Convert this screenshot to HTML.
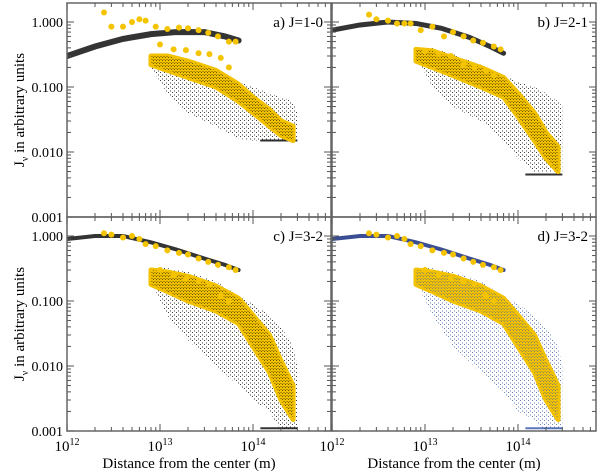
<!DOCTYPE html>
<html><head><meta charset="utf-8">
<style>
body{margin:0;background:#fff;}
svg{display:block;font-family:"Liberation Serif",serif;}
</style></head>
<body>
<svg id="chart" width="600" height="475" viewBox="0 0 600 475"></svg>
<script>
// ---- data (x in metres, y = J_nu in arbitrary units) ----
const panelLabels = ["a) J=1-0","b) J=2-1","c) J=3-2","d) J=3-2"];
const xTickLabels = ["12","13","14"];
const yTickLabels = ["1.000","0.100","0.010","0.001"];
// upper (inner) black curve per panel
const upX = [[1e12,2e12,4e12,8e12,1.5e13,3e13,5e13,7e13],[1e12,2e12,4e12,8e12,1.5e13,3e13,5e13,7e13],[1e12,2e12,4e12,8e12,1.5e13,3e13,5e13,7e13],[1e12,2e12,4e12,8e12,1.5e13,3e13,5e13,7e13]];
const upY = [[0.30,0.42,0.55,0.65,0.70,0.70,0.60,0.52],[0.75,0.90,1.00,0.95,0.80,0.58,0.42,0.33],[0.90,1.00,1.00,0.80,0.62,0.45,0.36,0.30],[0.90,1.00,1.00,0.80,0.62,0.45,0.36,0.30]];
const upW = [6,5,4,4];
// floor line of the black cloud
const floorY = [0.015,0.0045,0.0011,0.0011];
// black scatter cloud envelope (outer shell)
const cloudX = [8e12,1.2e13,2e13,4e13,7e13,1e14,1.5e14,2e14,2.7e14,3e14];
const cloudHi = [[0.30,0.30,0.25,0.18,0.12,0.10,0.08,0.07,0.06,0.04],[0.40,0.40,0.32,0.22,0.15,0.12,0.10,0.08,0.06,0.05],[0.33,0.32,0.28,0.20,0.12,0.09,0.06,0.04,0.02,0.01],[0.33,0.32,0.28,0.20,0.12,0.09,0.06,0.04,0.02,0.01]];
const cloudLo = [[0.20,0.08,0.04,0.025,0.016,0.015,0.015,0.015,0.015,0.015],[0.30,0.10,0.05,0.03,0.015,0.008,0.005,0.005,0.005,0.005],[0.20,0.06,0.025,0.01,0.005,0.003,0.002,0.001,0.001,0.001],[0.20,0.06,0.02,0.008,0.004,0.002,0.0015,0.001,0.001,0.001]];
// dense yellow band along the outer shell
const bandX = [8e12,1.2e13,2e13,4e13,7e13,1e14,1.5e14,2e14,2.7e14];
const bandHi = [[0.30,0.30,0.25,0.18,0.11,0.07,0.045,0.03,0.025],[0.38,0.36,0.28,0.20,0.14,0.08,0.04,0.02,0.012],[0.30,0.28,0.24,0.17,0.11,0.06,0.03,0.012,0.005],[0.30,0.28,0.24,0.17,0.11,0.06,0.03,0.012,0.005]];
const bandLo = [[0.22,0.18,0.14,0.10,0.06,0.04,0.025,0.018,0.015],[0.25,0.20,0.15,0.10,0.07,0.035,0.015,0.008,0.005],[0.18,0.14,0.10,0.07,0.045,0.02,0.008,0.003,0.0015],[0.18,0.14,0.10,0.07,0.045,0.02,0.008,0.003,0.0015]];
// individual yellow model points (outliers / upper branch)
const ptX = [2.5e12,3e12,4e12,5e12,6e12,7e12,9e12,1.2e13,1.6e13,2e13,2.6e13,3.3e13,4.2e13,5.5e13,6.5e13,1e13,1.4e13,1.9e13,2.6e13,3.4e13,4.5e13,5.5e13];
const ptY = [[1.4,0.85,0.85,1.0,1.1,1.05,0.85,0.78,0.82,0.8,0.75,0.68,0.6,0.5,0.5,0.45,0.38,0.37,0.33,0.32,0.28,0.2],
             [1.3,1.1,1.05,0.95,0.95,0.95,0.75,0.85,0.6,0.7,0.6,0.52,0.48,0.42,0.38,0.36,0.32,0.3,0.22,0.2,0.18,0.15],
             [1.1,1.05,0.95,1.0,0.9,0.75,0.7,0.6,0.55,0.52,0.45,0.4,0.36,0.33,0.3,0.3,0.25,0.22,0.2,0.18,0.12,0.1],
             [1.1,1.05,0.95,1.0,0.9,0.75,0.7,0.6,0.55,0.52,0.45,0.4,0.36,0.33,0.3,0.3,0.25,0.22,0.2,0.18,0.12,0.1]];
const cloudColor = ["#000","#000","#000","#3355aa"];

// ---- layout ----
const svg = document.getElementById('chart');
const NS = 'http://www.w3.org/2000/svg';
const panels = [{x:67,y:3},{x:332,y:3},{x:67,y:217},{x:332,y:217}];
const PW = 264, PH = 214, XMIN = 12, XMAX = 12 + 264/93, YMIN = -3, YMAX = 214/65 - 3;
function mk(tag, attrs, parent){ const e=document.createElementNS(NS,tag); for(const k in attrs) e.setAttribute(k,attrs[k]); (parent||svg).appendChild(e); return e; }
function sx(p,v){ return p.x + (Math.log10(v)-XMIN)/(XMAX-XMIN)*PW; }
function sy(p,v){ return p.y + PH - (Math.log10(v)-YMIN)/(YMAX-YMIN)*PH; }

const defs = mk('defs',{});
cloudColor.forEach((c,i)=>{
  const pat = mk('pattern',{id:'st'+i,width:4,height:4,patternUnits:'userSpaceOnUse'},defs);
  mk('rect',{x:0,y:0,width:1,height:1,fill:c},pat);
  mk('rect',{x:2,y:2.5,width:1,height:1,fill:c},pat);
  const pat2 = mk('pattern',{id:'sd'+i,width:3,height:3,patternUnits:'userSpaceOnUse'},defs);
  mk('rect',{x:0,y:0,width:1,height:1,fill:c},pat2);
  mk('rect',{x:1.5,y:2,width:1,height:1,fill:c},pat2);
});

panels.forEach((p,i)=>{
  const g = mk('g',{});
  
  
  const clip = mk('clipPath',{id:'cp'+i},defs);
  mk('rect',{x:p.x,y:p.y,width:PW,height:PH},clip);
  const inner = mk('g',{'clip-path':'url(#cp'+i+')'},g);
  // cloud
  let d='';
  cloudX.forEach((x,k)=>{ d+=(k?'L':'M')+sx(p,x)+','+sy(p,cloudHi[i][k]); });
  for(let k=cloudX.length-1;k>=0;k--) d+='L'+sx(p,cloudX[k])+','+sy(p,cloudLo[i][k]);
  const cl = mk('path',{d:d+'Z',fill:'url(#st'+i+')',opacity:0.75},inner);
  
  
  // floor
  const fl = mk('line',{x1:sx(p,1.2e14),x2:sx(p,3e14),y1:sy(p,floorY[i]),y2:sy(p,floorY[i]),stroke:cloudColor[i],'stroke-width':2,opacity:0.8},inner);
  
  
  // yellow band
  d='';
  bandX.forEach((x,k)=>{ d+=(k?'L':'M')+sx(p,x)+','+sy(p,bandHi[i][k]); });
  for(let k=bandX.length-1;k>=0;k--) d+='L'+sx(p,bandX[k])+','+sy(p,bandLo[i][k]);
  const bd = mk('path',{d:d+'Z',fill:'#f2c200',stroke:'#f2c200','stroke-width':5,'stroke-linejoin':'round'},inner);
  
  
  const bd2 = mk('path',{d:d+'Z',fill:'url(#sd'+i+')',opacity:0.55},inner);
  
  
  // upper curve
  d='';
  upX[i].forEach((x,k)=>{ d+=(k?'L':'M')+sx(p,x)+','+sy(p,upY[i][k]); });
  const uc = mk('path',{d:d,fill:'none',stroke:cloudColor[i]==='#000'?'#111':'#1a2f80','stroke-width':upW[i],'stroke-linecap':'round',opacity:0.85},inner);
  
  
  // yellow points
  ptX.forEach((x,k)=>{
    const c = mk('circle',{cx:sx(p,x),cy:sy(p,ptY[i][k]),r:3,fill:'#f5c400'},inner);
    
    
  });
  // frame
  const fr = mk('rect',{x:p.x,y:p.y,width:PW,height:PH,fill:'none',stroke:'#666','stroke-width':1.5},g);
  
  
  // ticks
  for(let e=12;e<=14;e++) for(let m=1;m<=9;m++){
    const v=m*Math.pow(10,e); const x=sx(p,v); if(x>p.x+PW) continue;
    const L = m===1?7:4;
    mk('line',{x1:x,x2:x,y1:p.y+PH,y2:p.y+PH-L,stroke:'#555'},g);
    mk('line',{x1:x,x2:x,y1:p.y,y2:p.y+L,stroke:'#555'},g);
  }
  for(let e=-3;e<=0;e++) for(let m=1;m<=9;m++){
    const v=m*Math.pow(10,e); const y=sy(p,v); if(y<p.y) continue;
    const L = m===1?7:4;
    mk('line',{x1:p.x,x2:p.x+L,y1:y,y2:y,stroke:'#555'},g);
    mk('line',{x1:p.x+PW,x2:p.x+PW-L,y1:y,y2:y,stroke:'#555'},g);
  }
  const t = mk('text',{x:p.x+PW-8,y:p.y+24,'text-anchor':'end','font-size':15},g);
  t.textContent = panelLabels[i];
  
  
  if(i%2===0){
    yTickLabels.forEach((s,k)=>{
      const tt = mk('text',{x:p.x-4,y:sy(p,Math.pow(10,-k))+5,'text-anchor':'end','font-size':14},g);
      tt.textContent = s;
      
      
    });
    const yt = mk('text',{x:0,y:0,transform:'translate(24,'+(p.y+PH/2)+') rotate(-90)','text-anchor':'middle','font-size':15},g);
    yt.innerHTML = 'J<tspan font-size="10" dy="4">ν</tspan><tspan dy="-4"> in arbitrary units</tspan>';
    
    
  }
  if(i>=2){
    xTickLabels.forEach(s=>{
      const x = sx(p,Math.pow(10,+s));
      const tt = mk('text',{x:x,y:p.y+PH+20,'text-anchor':'middle','font-size':15},g);
      tt.innerHTML = '10<tspan font-size="10" dy="-6">'+s+'</tspan>';
      
      
    });
    const xt = mk('text',{x:p.x+PW/2-10,y:468,'text-anchor':'middle','font-size':15},g);
    xt.textContent = 'Distance from the center (m)';
    
    
  }
});
</script>
</body></html>
